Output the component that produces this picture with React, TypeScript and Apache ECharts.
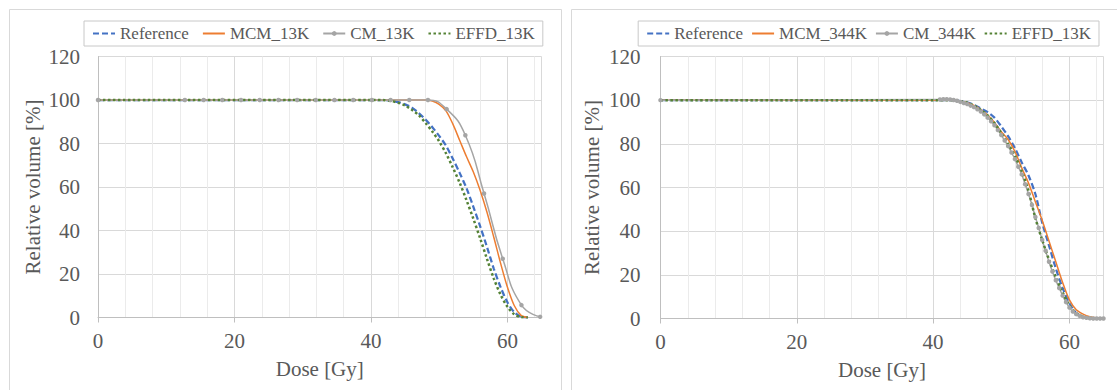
import React, { useEffect, useRef } from "react";
import * as echarts from "echarts";

// ---- Left panel data (13K) ----
const leftDose = [0, 40, 41, 42, 43, 44, 45, 46, 47, 48, 49, 50, 51, 52, 53, 54, 55, 56, 57, 58, 59, 60, 61, 62, 63];
const leftReference = [100, 100, 100, 100, 99.7, 99, 98, 96.5, 94, 91, 87.5, 83.5, 79, 73, 66.5, 59.5, 51, 42, 32.5, 22.5, 14, 7, 2.5, 0.4, 0];
const leftMCM = [100, 100, 100, 100, 100, 100, 100, 100, 100, 100, 99.5, 98, 95, 89, 81.5, 74, 67, 58.5, 48.5, 37, 25, 14, 5.5, 1, 0];
const leftEFFD = [100, 100, 100, 99.9, 99.5, 98.7, 97.5, 95.5, 93, 89.5, 85.5, 81, 75.5, 69, 62, 54, 45.5, 36.5, 27, 18, 10.5, 5, 1.5, 0.2, 0];
const leftCMDose = [0, 12.74, 15.48, 18.22, 20.96, 23.7, 26.44, 29.18, 31.92, 34.66, 37.4, 40.14, 42.88, 45.62, 48.36, 51.1, 53.84, 56.58, 59.32, 62.06, 64.8];
const leftCM = [100, 100, 100, 100, 100, 100, 100, 100, 100, 100, 100, 100, 100, 100, 100, 95.8, 83.8, 57, 27, 5.7, 0.3];

// ---- Right panel data (344K) ----
const rightDose = [0, 41, 42, 43, 44, 45, 46, 47, 48, 49, 50, 51, 52, 53, 54, 55, 56, 57, 58, 59, 60, 61, 62, 63, 64, 65];
const rightReference = [100, 100, 100, 100, 99.6, 99, 97.8, 96.2, 94.5, 92, 88, 83.5, 78, 71.5, 65.5, 57, 44, 33.5, 23, 14, 7, 2.5, 0.6, 0.1, 0, 0];
const rightMCM = [100, 100, 100, 100, 99.5, 98.8, 97.6, 95.7, 93.2, 89.8, 85.5, 82, 76.5, 69, 62, 53.5, 45, 35.5, 26, 16.5, 8.5, 4, 2, 0.8, 0.3, 0];
const rightEFFD = [100, 100, 100, 100, 99.5, 98.8, 97.5, 95.5, 93, 89.5, 85, 80, 74.5, 67.5, 58.5, 46, 36, 27, 19, 12, 6, 2.5, 0.8, 0.2, 0, 0];
const rightCMDose = [0, 41, 41.5, 42, 42.5, 43, 43.5, 44, 44.5, 45, 45.5, 46, 46.5, 47, 47.5, 48, 48.5, 49, 49.5, 50, 50.5, 51, 51.5, 52, 52.5, 53, 53.5, 54, 54.5, 55, 55.5, 56, 56.5, 57, 57.5, 58, 58.5, 59, 59.5, 60, 60.5, 61, 61.5, 62, 62.5, 63, 63.5, 64, 64.5, 65];
const rightCM = [100, 100.3, 100.4, 100.4, 100.3, 100.1, 99.7, 99.2, 98.7, 98.2, 97.5, 96.8, 95.8, 94.8, 93.5, 92, 90.3, 88.5, 86.3, 84, 81.5, 79, 76, 73, 69.5, 66, 61.5, 57, 52, 46.5, 41.5, 36, 31, 26, 21.5, 17.5, 14, 10.5, 7.5, 5, 3.2, 2, 1.2, 0.6, 0.3, 0.1, 0, 0, 0, 0];

const leftNames = ["Reference", "MCM_13K", "CM_13K", "EFFD_13K"];
const rightNames = ["Reference", "MCM_344K", "CM_344K", "EFFD_13K"];
const markerSeries = ["CM_13K", "CM_344K"];

const xTicks = { min: 0, max: 65, interval: 20 };
const yTicks = { min: 0, max: 120, interval: 20 };

const zip = (xs: number[], ys: number[]) => xs.map((x, i) => [x, ys[i]]);

const FONT = "'Liberation Serif', 'Times New Roman', Times, 'DejaVu Serif', serif";
const TEXT = "#595959";
const BLUE = "#4472C4";
const ORANGE = "#ED7D31";
const GRAY = "#A5A5A5";
const GREEN = "#548235";

function xAxisFor(gridIndex: number) {
  return {
    type: "value",
    gridIndex,
    min: xTicks.min,
    max: xTicks.max,
    interval: xTicks.interval,
    name: "Dose [Gy]",
    nameLocation: "middle",
    nameGap: 41,
    nameTextStyle: { fontFamily: FONT, fontSize: 21, color: TEXT },
    axisLine: { show: true, lineStyle: { color: "#bfbfbf", width: 1 } },
    axisTick: { show: true, length: 5, lineStyle: { color: "#bfbfbf" } },
    axisLabel: { fontFamily: FONT, fontSize: 21, color: TEXT, margin: 13, showMaxLabel: false },
    splitLine: { show: true, lineStyle: { color: "#d9d9d9", width: 1 } },
    minorTick: { show: false, splitNumber: 5 },
    minorSplitLine: { show: true, lineStyle: { color: "#ebebeb", width: 1 } },
  };
}

function yAxisFor(gridIndex: number, labelMargin: number, nameGap: number) {
  return {
    type: "value",
    gridIndex,
    min: yTicks.min,
    max: yTicks.max,
    interval: yTicks.interval,
    name: "Relative volume [%]",
    nameLocation: "middle",
    nameGap,
    nameTextStyle: { fontFamily: FONT, fontSize: 21, color: TEXT },
    axisLine: { show: true, lineStyle: { color: "#bfbfbf", width: 1 } },
    axisTick: { show: false },
    axisLabel: { fontFamily: FONT, fontSize: 21, color: TEXT, margin: labelMargin },
    splitLine: { show: true, lineStyle: { color: "#d9d9d9", width: 1 } },
  };
}

function legendFor(pos: { left?: number; right?: number }, names: string[], gap: number) {
  return {
    ...pos,
    top: 21,
    orient: "horizontal",
    data: names.map((n) =>
      markerSeries.includes(n)
        ? { name: n }
        : { name: n, itemStyle: { color: "rgba(0,0,0,0)", borderColor: "rgba(0,0,0,0)", borderWidth: 0, opacity: 0 } }
    ),
    backgroundColor: "#ffffff",
    borderColor: "#c8c8c8",
    borderWidth: 1,
    padding: [4, 8, 4, 8],
    itemWidth: 22,
    itemHeight: 6,
    itemGap: gap,
    textStyle: { fontFamily: FONT, fontSize: 17, color: TEXT },
  };
}

function seriesFor(idx: number, names: string[], ref: number[][], mcm: number[][], cm: number[][], effd: number[][]) {
  const base = { type: "line", xAxisIndex: idx, yAxisIndex: idx, animation: false };
  return [
    { ...base, name: names[0], data: ref, smooth: 0.3, symbol: "none", itemStyle: { color: BLUE }, lineStyle: { color: BLUE, width: 2.25, type: [6, 3] } },
    { ...base, name: names[1], data: mcm, smooth: 0.3, symbol: "none", itemStyle: { color: ORANGE }, lineStyle: { color: ORANGE, width: 1.5 } },
    { ...base, name: names[2], data: cm, smooth: 0.5, symbol: "circle", symbolSize: 4.5, showSymbol: true, showAllSymbol: true, itemStyle: { color: GRAY }, lineStyle: { color: GRAY, width: 1.5 } },
    { ...base, name: names[3], data: effd, smooth: 0.3, symbol: "none", itemStyle: { color: GREEN }, lineStyle: { color: GREEN, width: 2.5, type: [2.5, 2.5] } },
  ];
}

export default function App() {
  const ref = useRef<HTMLDivElement>(null);
  useEffect(() => {
    if (!ref.current) return;
    const chart = echarts.init(ref.current, undefined, { renderer: "svg" });
    const option = {
      animation: false,
      backgroundColor: "#ffffff",
      graphic: [
        { type: "rect", shape: { x: 9.5, y: 9.5, width: 552, height: 420 }, style: { fill: "#ffffff", stroke: "#d9d9d9", lineWidth: 1 }, z: -10, silent: true },
        { type: "rect", shape: { x: 571.5, y: 9.5, width: 560, height: 420 }, style: { fill: "#ffffff", stroke: "#d9d9d9", lineWidth: 1 }, z: -10, silent: true },
      ],
      grid: [
        { left: 98, top: 56.5, width: 443.5, height: 261, containLabel: false },
        { left: 660.5, top: 56.5, width: 443, height: 262, containLabel: false },
      ],
      xAxis: [xAxisFor(0), xAxisFor(1)],
      yAxis: [yAxisFor(0, 18, 55), yAxisFor(1, 20, 58)],
      legend: [legendFor({ left: 84 }, leftNames, 13), legendFor({ right: 18 }, rightNames, 8)],
      series: [
        ...seriesFor(0, leftNames, zip(leftDose, leftReference), zip(leftDose, leftMCM), zip(leftCMDose, leftCM), zip(leftDose, leftEFFD)),
        ...seriesFor(1, rightNames, zip(rightDose, rightReference), zip(rightDose, rightMCM), zip(rightCMDose, rightCM), zip(rightDose, rightEFFD)),
      ],
    };
    chart.setOption(option as any);
    return () => chart.dispose();
  }, []);
  return <div ref={ref} style={{ position: "fixed", left: 0, top: 0, width: 1117, height: 390 }} />;
}
